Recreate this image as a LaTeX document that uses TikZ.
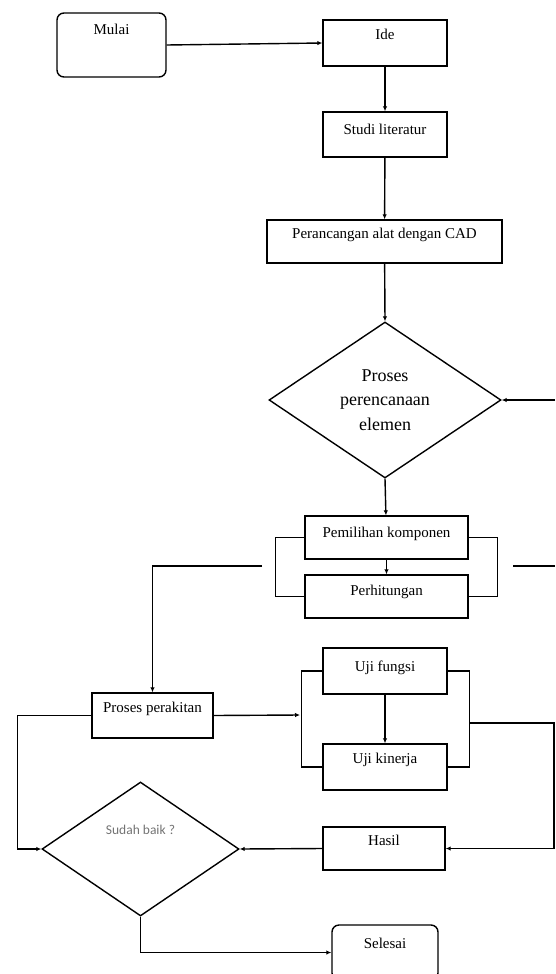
\documentclass[tikz,border=0pt]{standalone}
\usepackage{fontspec}
\setmainfont{Liberation Serif}
\newfontfamily\calibri{Carlito}
\usepackage{tikz}
\usetikzlibrary{shapes.geometric,arrows.meta,positioning}

\tikzset{
  kotak/.style={draw, rectangle, line width=1.4pt, inner ysep=0pt, font=\fontsize{15}{18}\selectfont},
  terminal/.style={kotak, rounded corners=7pt},
  keputusan/.style={draw, diamond, line width=1.4pt, inner sep=0pt},
  garis/.style={line width=1.4pt},
  panah/.style={garis, -{Latex[length=5pt,width=4.5pt]}},
}

\begin{document}
\begin{tikzpicture}[x=1pt,y=1pt]
  \useasboundingbox (0,0) rectangle (555,-974);
  \clip (0,0) rectangle (555,-974);
  % kolom atas
  \node[terminal, minimum width=109pt, text height=22pt, text depth=42pt] (mulai) at (111.5,-45) {Mulai};
  \node[kotak, minimum width=124pt, text height=20pt, text depth=26pt] (ide) at (385,-43) {Ide};
  \node[kotak, minimum width=124pt, text height=22pt, text depth=23pt] (studi) at (385,-134.5) {Studi literatur};
  \node[kotak, minimum width=235pt, text height=18pt, text depth=25pt] (rancang) at (384.5,-241.5) {Perancangan alat dengan CAD};
  \node[keputusan, minimum width=232pt, minimum height=156pt, align=center,
        font=\fontsize{18}{24.5}\selectfont] (elemen) at (385,-400) {Proses\\perencanaan\\elemen};
  \node[kotak, minimum width=163pt, text height=21pt, text depth=22pt] (pilih) at (386.5,-537.5) {Pemilihan komponen};
  \node[kotak, minimum width=163pt, text height=20pt, text depth=23pt] (hitung) at (386.5,-596.5) {Perhitungan};
  % kolom bawah
  \node[kotak, minimum width=121pt, text height=19pt, text depth=26pt] (rakit) at (152.5,-715.5) {Proses perakitan};
  \node[kotak, minimum width=124pt, text height=23pt, text depth=23pt] (fungsi) at (385,-671) {Uji fungsi};
  \node[kotak, minimum width=124pt, text height=19pt, text depth=27pt] (kinerja) at (385,-767) {Uji kinerja};
  \node[keputusan, minimum width=197pt, minimum height=134pt,
        label={[font=\calibri\fontsize{13.5}{16}\selectfont, text=black!55, yshift=19pt]center:Sudah baik ?}] (baik) at (140.5,-849) {};
  \node[kotak, minimum width=122pt, text height=18pt, text depth=25pt] (hasil) at (384,-848.5) {Hasil};
  \node[terminal, minimum width=106pt, text height=23pt, text depth=32pt] (selesai) at (385,-952.5) {Selesai};
  % titik bantu
  \coordinate (kanan1) at (555,-400);
  \coordinate (kiri1) at (262,-566);
  \coordinate (kanan2) at (513,-566);
  \coordinate (kanan3) at (555,-566);
  \coordinate (brkiri) at (300,-715);
  \coordinate (brkanan) at (469,-723);
  % panah
  \draw[panah] (mulai.east) -- (ide.west);
  \draw[panah] (ide) -- (studi);
  \draw[panah] (studi) -- (rancang);
  \draw[panah] (rancang) -- (elemen.north);
  \draw[panah] (kanan1) -- (elemen.east);
  \draw[panah] (elemen.south) -- (pilih);
  \draw[panah] (pilih) -- (hitung);
  \draw[garis] (pilih.west) -- ++(-29,0) |- (hitung.west);
  \draw[garis] (pilih.east) -- ++(29,0) |- (hitung.east);
  \draw[panah] (kiri1) -| (rakit.north);
  \draw[garis] (kanan2) -- (kanan3);
  \draw[panah] (rakit.east) -- (brkiri);
  \draw[panah] (fungsi) -- (kinerja);
  \draw[garis] (fungsi.west) -- ++(-21,0) |- (kinerja.west);
  \draw[garis] (fungsi.east) -- ++(22,0) |- (kinerja.east);
  \draw[panah] (brkanan) -- (554,-723) |- (hasil.east);
  \draw[panah] (hasil.west) -- (baik.east);
  \draw[panah] (rakit.west) -- ++(-74,0) |- (baik.west);
  \draw[panah] (baik.south) |- (selesai.west);
\end{tikzpicture}
\end{document}
